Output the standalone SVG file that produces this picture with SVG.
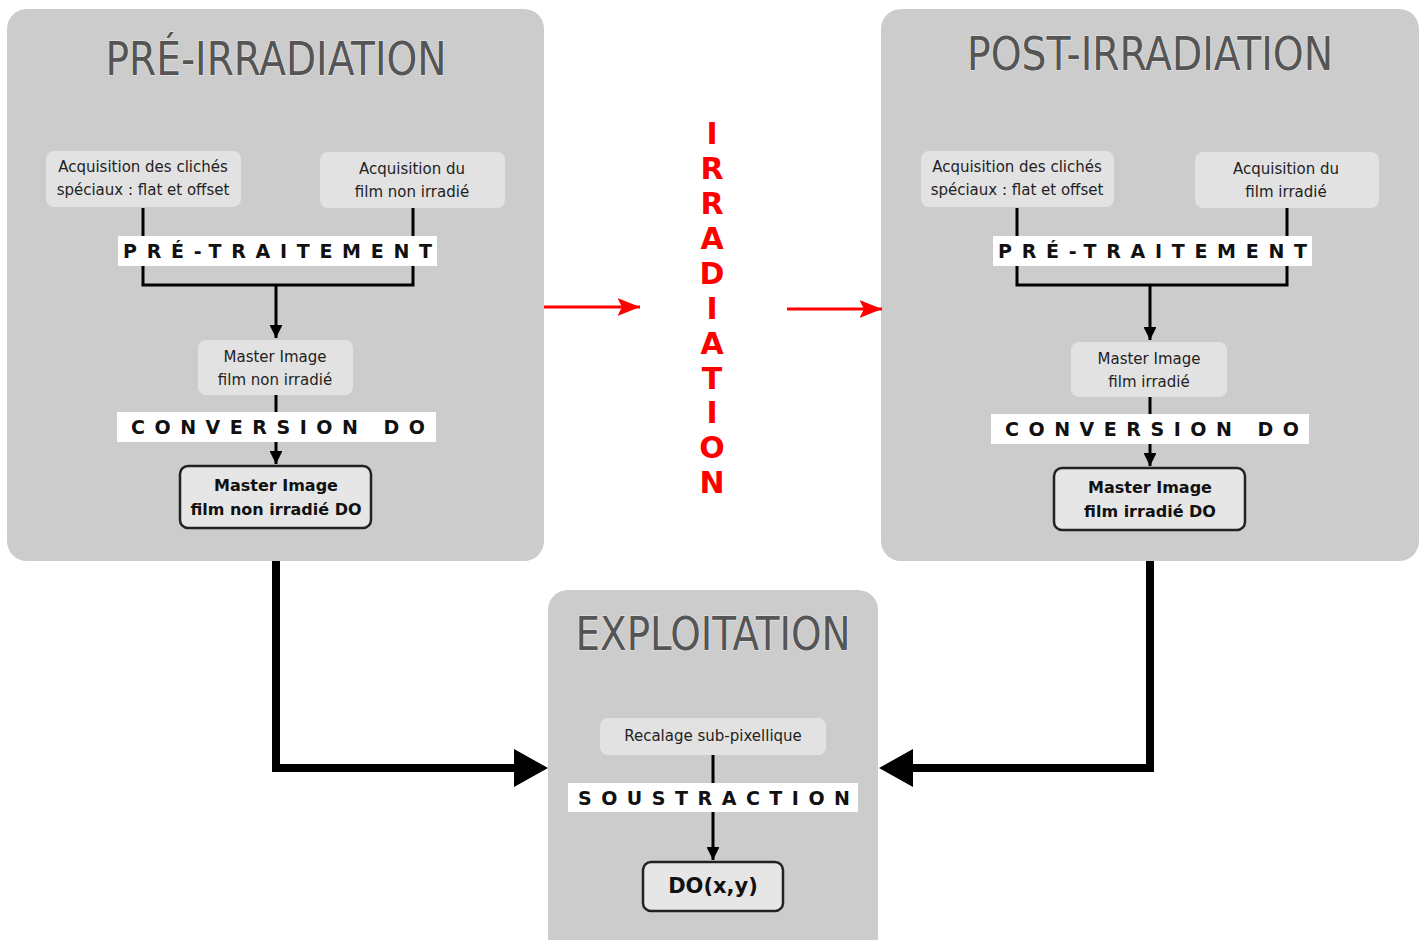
<svg xmlns="http://www.w3.org/2000/svg" width="1428" height="940" viewBox="0 0 1428 940">
<defs>
<style>
.panel{fill:#cccccc;}
.title{font-family:"DejaVu Sans Condensed","DejaVu Sans",sans-serif;font-size:46px;fill:#555555;stroke:#e8e8e8;stroke-width:1.2px;paint-order:stroke;text-anchor:middle;}
.sbox{fill:#e2e2e2;}
.stext{font-family:"DejaVu Sans",Verdana,sans-serif;font-size:15px;fill:#222222;text-anchor:middle;}
.wbox{fill:#ffffff;}
.wtext{font-family:"DejaVu Sans",Verdana,sans-serif;font-size:19px;font-weight:bold;fill:#111111;}
.bbox{fill:#e6e6e6;stroke:#222222;stroke-width:2.5px;}
.btext{font-family:"DejaVu Sans",Verdana,sans-serif;font-size:16px;font-weight:bold;fill:#111111;text-anchor:middle;}
.ln{fill:none;stroke:#000000;stroke-width:3px;}
.thick{fill:none;stroke:#000000;stroke-width:8px;}
.red{fill:none;stroke:#ff0000;stroke-width:3px;}
.irr{font-family:"DejaVu Sans",Verdana,sans-serif;font-size:30px;font-weight:bold;fill:#ff0000;text-anchor:middle;}
</style>
<marker id="ah" viewBox="0 0 10 10" refX="10" refY="5" markerWidth="4.3" markerHeight="4.3" orient="auto" markerUnits="strokeWidth"><path d="M0,0 L10,5 L0,10 z" fill="#000"/></marker>
<marker id="ahr" viewBox="0 0 10 10" refX="10" refY="5" markerWidth="7.5" markerHeight="6" orient="auto" markerUnits="strokeWidth" preserveAspectRatio="none"><path d="M0,0 L10,5 L0,10 L2,5 z" fill="#ff0000"/></marker>
</defs>
<rect width="1428" height="940" fill="#ffffff"/>

<g id="panel-pre">
<rect class="panel" x="7" y="9" width="537" height="552" rx="20"/>
<text class="title" x="276" y="75" textLength="341" lengthAdjust="spacingAndGlyphs">PRÉ-IRRADIATION</text>
</g>
<g id="panel-post">
<rect class="panel" x="881" y="9" width="538" height="552" rx="20"/>
<text class="title" x="1150" y="70" textLength="366" lengthAdjust="spacingAndGlyphs">POST-IRRADIATION</text>
</g>
<g id="panel-exploit">
<rect class="panel" x="548" y="590" width="330" height="370" rx="20"/>
<text class="title" x="713" y="650" textLength="275" lengthAdjust="spacingAndGlyphs">EXPLOITATION</text>
</g>

<g id="connectors">
<path class="ln" d="M143,208 V238"/>
<path class="ln" d="M413,208 V238"/>
<path class="ln" d="M143,266 V285 H413 V266"/>
<path class="ln" d="M276,285 V338" marker-end="url(#ah)"/>
<path class="ln" d="M276,395 V412"/>
<path class="ln" d="M276,442 V464" marker-end="url(#ah)"/>
<path class="ln" d="M1017,208 V238"/>
<path class="ln" d="M1287,208 V238"/>
<path class="ln" d="M1017,266 V285 H1287 V266"/>
<path class="ln" d="M1150,285 V340" marker-end="url(#ah)"/>
<path class="ln" d="M1150,397 V414"/>
<path class="ln" d="M1150,444 V466" marker-end="url(#ah)"/>
<path class="ln" d="M713,755 V783"/>
<path class="ln" d="M713,812 V860" marker-end="url(#ah)"/>
<path class="thick" d="M276,561 V768 H515"/>
<path d="M514,749 L548,768 L514,787 z" fill="#000"/>
<path class="thick" d="M1150,561 V768 H912"/>
<path d="M913,749 L879,768 L913,787 z" fill="#000"/>
<path class="red" d="M544,307 H640" marker-end="url(#ahr)"/>
<path class="red" d="M787,309 H882" marker-end="url(#ahr)"/>
</g>

<g id="irradiation">
<text class="irr" x="712" y="144">I</text>
<text class="irr" x="712" y="179">R</text>
<text class="irr" x="712" y="214">R</text>
<text class="irr" x="712" y="249">A</text>
<text class="irr" x="712" y="284">D</text>
<text class="irr" x="712" y="319">I</text>
<text class="irr" x="712" y="354">A</text>
<text class="irr" x="712" y="389">T</text>
<text class="irr" x="712" y="423">I</text>
<text class="irr" x="712" y="458">O</text>
<text class="irr" x="712" y="493">N</text>
</g>

<g id="acq-speciaux-pre">
<rect class="sbox" x="46" y="151" width="195" height="56" rx="8"/>
<text class="stext" x="143" y="172">Acquisition des clichés</text>
<text class="stext" x="143" y="195">spéciaux : flat et offset</text>
</g>
<g id="acq-film-pre">
<rect class="sbox" x="320" y="152" width="185" height="56" rx="8"/>
<text class="stext" x="412" y="174">Acquisition du</text>
<text class="stext" x="412" y="197">film non irradié</text>
</g>
<g id="pretraitement-pre">
<rect class="wbox" x="118" y="236" width="319" height="30"/>
<text class="wtext" x="123" y="258" textLength="309" lengthAdjust="spacing">PRÉ-TRAITEMENT</text>
</g>
<g id="master-pre">
<rect class="sbox" x="198" y="340" width="155" height="55" rx="8"/>
<text class="stext" x="275" y="362">Master Image</text>
<text class="stext" x="275" y="385">film non irradié</text>
</g>
<g id="conversion-pre">
<rect class="wbox" x="117" y="412" width="319" height="30"/>
<text class="wtext" x="131" y="434" textLength="294" lengthAdjust="spacing">CONVERSION DO</text>
</g>
<g id="masterdo-pre">
<rect class="bbox" x="180" y="466" width="191" height="62" rx="8"/>
<text class="btext" x="276" y="491">Master Image</text>
<text class="btext" x="276" y="515">film non irradié DO</text>
</g>

<g id="acq-speciaux-post">
<rect class="sbox" x="921" y="151" width="193" height="56" rx="8"/>
<text class="stext" x="1017" y="172">Acquisition des clichés</text>
<text class="stext" x="1017" y="195">spéciaux : flat et offset</text>
</g>
<g id="acq-film-post">
<rect class="sbox" x="1195" y="152" width="184" height="56" rx="8"/>
<text class="stext" x="1286" y="174">Acquisition du</text>
<text class="stext" x="1286" y="197">film irradié</text>
</g>
<g id="pretraitement-post">
<rect class="wbox" x="993" y="236" width="319" height="30"/>
<text class="wtext" x="998" y="258" textLength="309" lengthAdjust="spacing">PRÉ-TRAITEMENT</text>
</g>
<g id="master-post">
<rect class="sbox" x="1071" y="342" width="156" height="55" rx="8"/>
<text class="stext" x="1149" y="364">Master Image</text>
<text class="stext" x="1149" y="387">film irradié</text>
</g>
<g id="conversion-post">
<rect class="wbox" x="991" y="414" width="318" height="30"/>
<text class="wtext" x="1005" y="436" textLength="294" lengthAdjust="spacing">CONVERSION DO</text>
</g>
<g id="masterdo-post">
<rect class="bbox" x="1054" y="468" width="191" height="62" rx="8"/>
<text class="btext" x="1150" y="493">Master Image</text>
<text class="btext" x="1150" y="517">film irradié DO</text>
</g>

<g id="recalage">
<rect class="sbox" x="600" y="718" width="226" height="37" rx="8"/>
<text class="stext" x="713" y="741">Recalage sub-pixellique</text>
</g>
<g id="soustraction">
<rect class="wbox" x="568" y="783" width="290" height="29"/>
<text class="wtext" x="578" y="805" textLength="272" lengthAdjust="spacing">SOUSTRACTION</text>
</g>
<g id="do-xy">
<rect class="bbox" x="643" y="862" width="140" height="49" rx="8"/>
<text class="btext" x="713" y="893" style="font-size:21px">DO(x,y)</text>
</g>
</svg>
